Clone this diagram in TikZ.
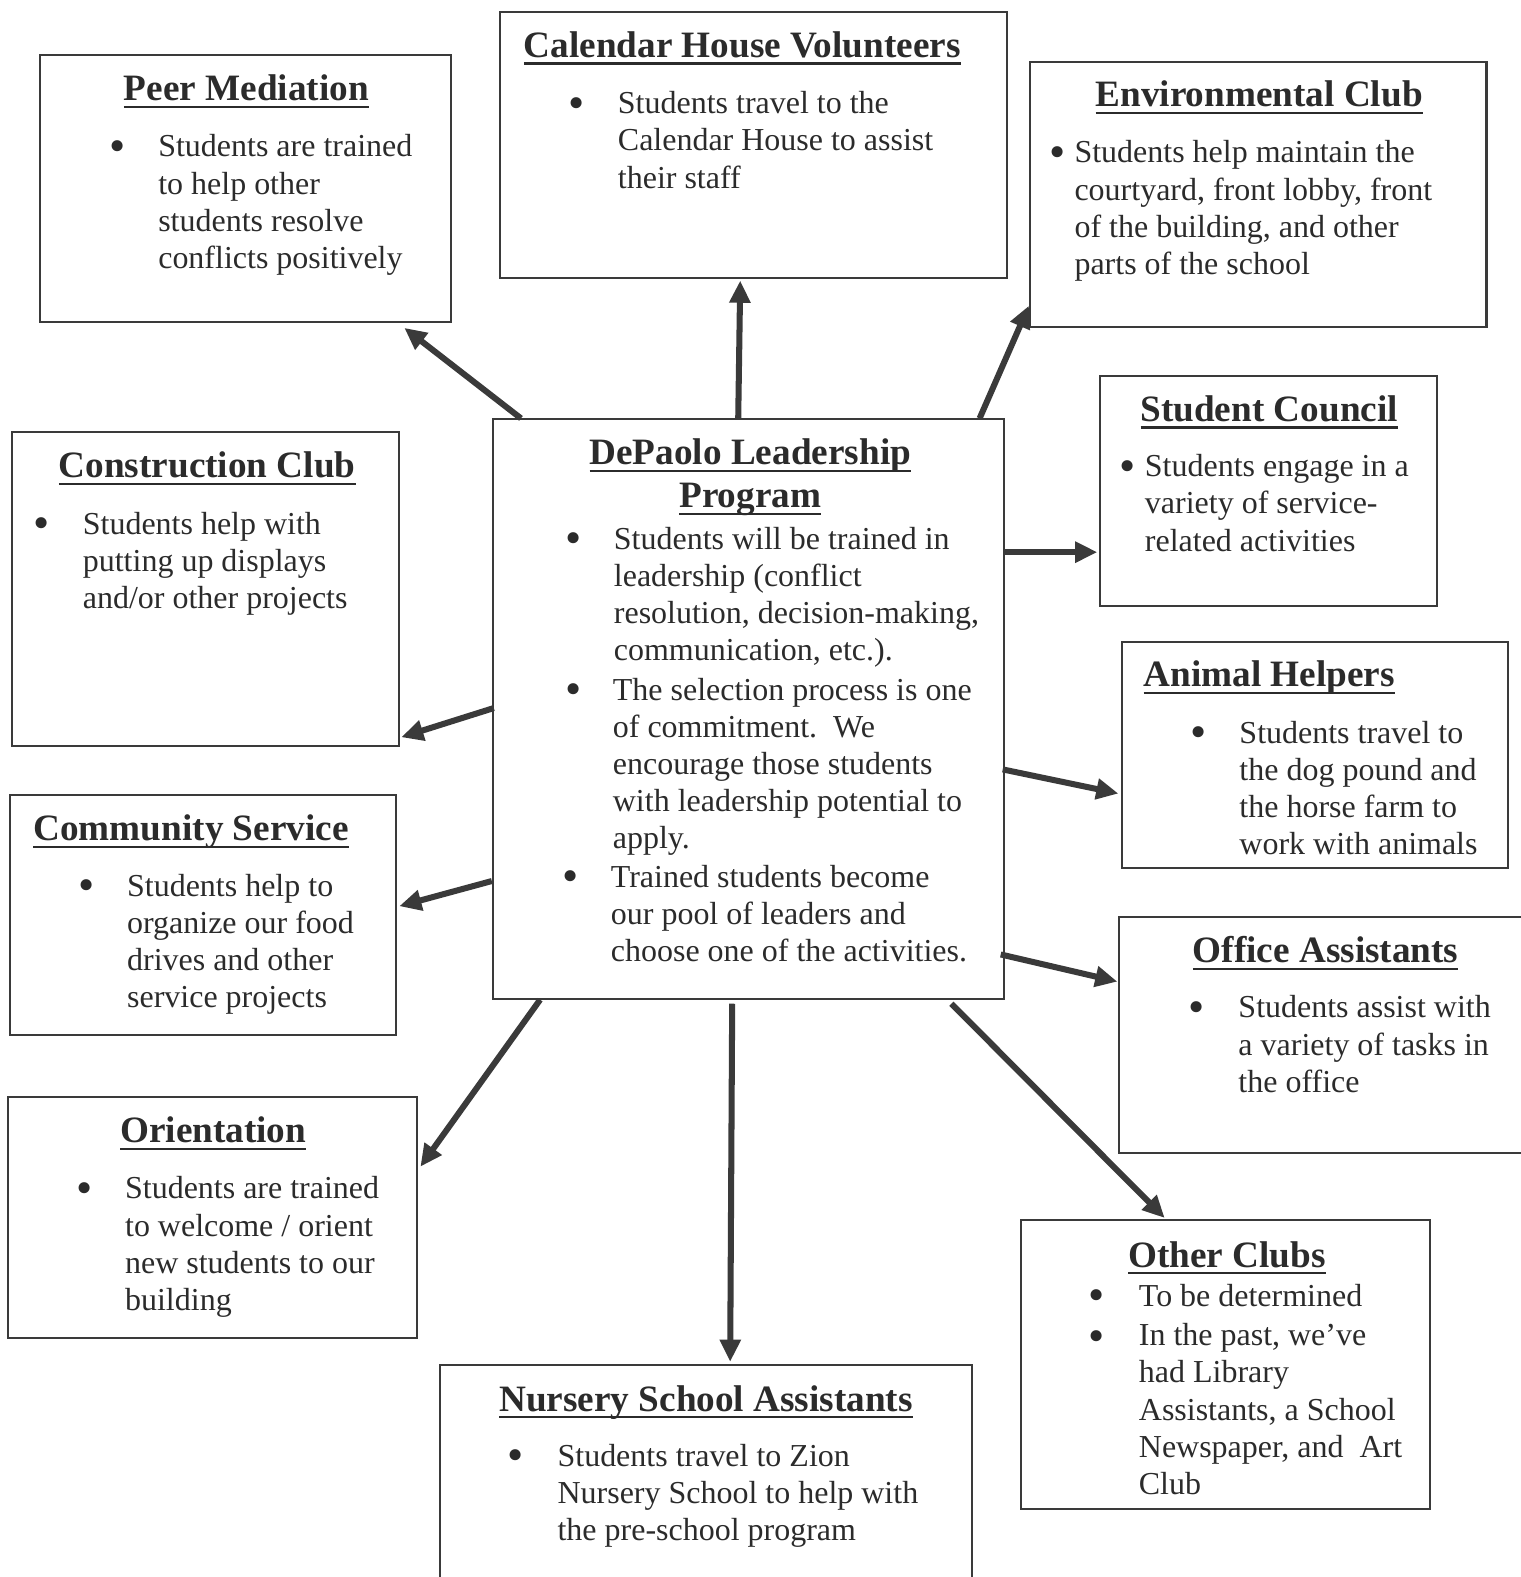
\documentclass[tikz,border=0pt]{standalone}
\usepackage{fontspec}
\setmainfont{Liberation Serif}
\usepackage{xcolor}
\usepackage{tikz}
\usetikzlibrary{arrows.meta, positioning, fit, calc}

\definecolor{ink}{HTML}{2B2B2B}
\definecolor{edge}{HTML}{3A3A3A}
\newcommand{\headline}[1]{{\setbox0\hbox{#1}\rlap{\rule[-3.6pt]{\wd0}{1.1pt}}\box0}}

\begin{document}
\begin{tikzpicture}[
  x=0.5pt, y=-0.5pt,
  box/.style={draw=edge, line width=1pt, inner sep=0pt},
  ttl/.style={anchor=base, inner sep=0pt, text=ink, font=\fontsize{18.5}{21.5}\selectfont\bfseries},
  txt/.style={anchor=base west, align=left, inner sep=0pt, text=ink, font=\fontsize{15.9}{18.5}\selectfont},
  dot/.style={anchor=center, inner sep=0pt, yshift=-2.5pt, text=ink, font=\fontsize{23}{23}\selectfont},
  arr/.style={draw=edge, line width=3pt, -{Triangle[length=11pt,width=10pt]}},
]
\useasboundingbox (0,0) rectangle (1512,1568);

% boxes
\node[box, fit={(490,417) (998,993)}] (ctr) {};
\node[box, fit={(40,55) (448,320)}] (peer) {};
\node[box, fit={(497,12) (1001,276)}] (cal) {};
\node[box, fit={(1024,62) (1478,325)}] (env) {};
\node[box, fit={(1094,374) (1429,603)}] (stc) {};
\node[box, fit={(1116,638) (1499,863)}] (ani) {};
\node[box, fit={(1113,912) (1530,1146)}] (off) {};
\node[box, fit={(1015,1213) (1422,1500)}] (oth) {};
\node[box, fit={(437,1357) (966,1590)}] (nur) {};
\node[box, fit={(8,1091) (415,1330)}] (ori) {};
\node[box, fit={(10,790) (394,1029)}] (com) {};
\node[box, fit={(12,430) (397,742)}] (con) {};

% centre (text nodes sit on their last baseline)
\node[ttl] (ctrT1) at (746,462) {\headline{DePaolo Leadership}};
\node[ttl] (ctrT2) at (746,505) {\headline{Program}};
\node[dot] (ctrB1) at (570,535) {\textbullet};
\node[txt] (ctrL1) at (610,657) {Students will be trained in\\leadership (conflict\\resolution, decision-making,\\communication, etc.).};
\node[dot] (ctrB2) at (570,685) {\textbullet};
\node[txt] (ctrL2) at (609,844) {The selection process is one\\of commitment.\ \ We\\encourage those students\\with leadership potential to\\apply.};
\node[dot] (ctrB3) at (567,871) {\textbullet};
\node[txt] (ctrL3) at (607,956) {Trained students become\\our pool of leaders and\\choose one of the activities.};

% peer mediation
\node[ttl] (peerT) at (245,100) {\headline{Peer Mediation}};
\node[dot] (peerB) at (117,145) {\textbullet};
\node[txt] (peerL) at (157,267) {Students are trained\\to help other\\students resolve\\conflicts positively};

% calendar house
\node[ttl] (calT) at (738,57) {\headline{Calendar House Volunteers}};
\node[dot] (calB) at (573,102) {\textbullet};
\node[txt] (calL) at (614,187) {Students travel to the\\Calendar House to assist\\their staff};

% environmental club
\node[ttl] (envT) at (1252,106) {\headline{Environmental Club}};
\node[dot] (envB) at (1052,151) {\textbullet};
\node[txt] (envL) at (1068,273) {Students help maintain the\\courtyard, front lobby, front\\of the building, and other\\parts of the school};

% student council
\node[ttl] (stcT) at (1262,419) {\headline{Student Council}};
\node[dot] (stcB) at (1121,463) {\textbullet};
\node[txt] (stcL) at (1138,548) {Students engage in a\\variety of service-\\related activities};

% animal helpers
\node[ttl] (aniT) at (1262,683) {\headline{Animal Helpers}};
\node[dot] (aniB) at (1192,728) {\textbullet};
\node[txt] (aniL) at (1232,850) {Students travel to\\the dog pound and\\the horse farm to\\work with animals};

% office assistants
\node[ttl] (offT) at (1318,957) {\headline{Office Assistants}};
\node[dot] (offB) at (1190,1001) {\textbullet};
\node[txt] (offL) at (1231,1086) {Students assist with\\a variety of tasks in\\the office};

% other clubs
\node[ttl] (othT) at (1220,1260) {\headline{Other Clubs}};
\node[dot] (othB1) at (1090,1288) {\textbullet};
\node[txt] (othL1) at (1132,1299) {To be determined};
\node[dot] (othB2) at (1090,1328) {\textbullet};
\node[txt] (othL2) at (1132,1486) {In the past, we’ve\\had Library\\Assistants, a School\\Newspaper, and\ \ Art\\Club};

% nursery school
\node[ttl] (nurT) at (702,1403) {\headline{Nursery School Assistants}};
\node[dot] (nurB) at (513,1447) {\textbullet};
\node[txt] (nurL) at (554,1532) {Students travel to Zion\\Nursery School to help with\\the pre-school program};

% orientation
\node[ttl] (oriT) at (212,1136) {\headline{Orientation}};
\node[dot] (oriB) at (84,1181) {\textbullet};
\node[txt] (oriL) at (124,1303) {Students are trained\\to welcome / orient\\new students to our\\building};

% community service
\node[ttl] (comT) at (190,836) {\headline{Community Service}};
\node[dot] (comB) at (86,880) {\textbullet};
\node[txt] (comL) at (126,1002) {Students help to\\organize our food\\drives and other\\service projects};

% construction club
\node[ttl] (conT) at (206,475) {\headline{Construction Club}};
\node[dot] (conB) at (41,520) {\textbullet};
\node[txt] (conL) at (82,605) {Students help with\\putting up displays\\and/or other projects};

% arrows
\draw[arr] ($(ctr.north west)+(29,0)$) -- ($(peer.south east)+(-47,5)$);
\draw[arr] ($(ctr.north west)+(245,0)$) -- ($(cal.south west)+(240,2)$);
\draw[arr] ($(ctr.north east)+(-25,0)$) -- ($(env.south west)+(0,-22)$);
\draw[arr] ($(ctr.north east)+(0,133)$) -- ($(stc.north west)+(-2,176)$);
\draw[arr] ($(ctr.north west)+(2,288)$) -- ($(con.south east)+(1,-10)$);
\draw[arr] ($(ctr.north west)+(0,460)$) -- ($(com.north east)+(2,112)$);
\draw[arr] ($(ctr.north east)+(-2,349)$) -- ($(ani.north west)+(-3,152)$);
\draw[arr] ($(ctr.north east)+(-4,533)$) -- ($(off.north west)+(-1,65)$);
\draw[arr] ($(ctr.south west)+(48,0)$) -- ($(ori.north east)+(2,70)$);
\draw[arr] ($(ctr.south west)+(239,4)$) -- ($(nur.north west)+(290,-2)$);
\draw[arr] ($(ctr.south east)+(-53,4)$) -- ($(oth.north west)+(144,-1)$);
\end{tikzpicture}
\end{document}
